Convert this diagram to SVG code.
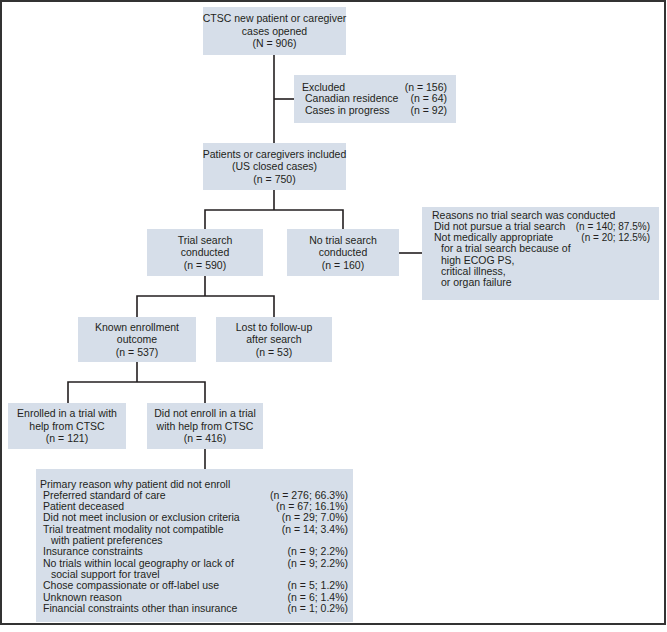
<svg xmlns="http://www.w3.org/2000/svg" width="667" height="632" viewBox="0 0 667 632">
<style>
.box{fill:#d6dee9}
.t{font-family:"Liberation Sans",Arial,sans-serif;font-size:10.5px;fill:#231f20}
.c{text-anchor:middle}
.r{text-anchor:end}
.n{font-size:10px}
.ln{stroke:#231f20;stroke-width:1.6;fill:none}
</style>
<rect width="667" height="632" fill="#fff"/>
<rect x="1" y="1" width="664" height="623" fill="none" stroke="#333" stroke-width="2"/>
<g id="connectors" class="ln">
<path d="M274 55V143"/>
<path d="M274 99H294"/>
<path d="M274 190V210M205 229V210H343V229"/>
<path d="M399 253H422"/>
<path d="M205 276V296M137 317V296H274V317"/>
<path d="M137 362V382M68 403V382H205V403"/>
<path d="M205 449V469"/>
</g>
<g id="opened">
<rect class="box" x="203" y="7" width="143" height="48"/>
<text class="t c" x="274.5" y="22.2">CTSC new patient or caregiver</text>
<text class="t c" x="274.5" y="34.7">cases opened</text>
<text class="t c" x="274.5" y="47.2">(N = 906)</text>
</g>
<g id="excluded">
<rect class="box" x="294" y="75" width="162" height="48"/>
<text class="t" x="302" y="90.5">Excluded</text>
<text class="t r" x="447" y="90.5">(n = 156)</text>
<text class="t" x="305" y="102">Canadian residence</text>
<text class="t r" x="447" y="102">(n = 64)</text>
<text class="t" x="305" y="113.5">Cases in progress</text>
<text class="t r" x="447" y="113.5">(n = 92)</text>
</g>
<g id="included">
<rect class="box" x="203" y="143" width="143" height="47"/>
<text class="t c" x="274.5" y="157.7">Patients or caregivers included</text>
<text class="t c" x="274.5" y="170.2">(US closed cases)</text>
<text class="t c" x="274.5" y="182.7">(n = 750)</text>
</g>
<g id="search">
<rect class="box" x="147" y="229" width="116" height="47"/>
<text class="t c" x="205" y="243.7">Trial search</text>
<text class="t c" x="205" y="256.2">conducted</text>
<text class="t c" x="205" y="268.7">(n = 590)</text>
</g>
<g id="nosearch">
<rect class="box" x="287" y="229" width="112" height="47"/>
<text class="t c" x="343" y="243.7">No trial search</text>
<text class="t c" x="343" y="256.2">conducted</text>
<text class="t c" x="343" y="268.7">(n = 160)</text>
</g>
<g id="reasons">
<rect class="box" x="422" y="207" width="237" height="93"/>
<text class="t" x="432" y="218.5">Reasons no trial search was conducted</text>
<text class="t" x="434" y="229.8">Did not pursue a trial search</text>
<text class="t r n" x="650" y="229.8">(n = 140; 87.5%)</text>
<text class="t" x="434" y="241.1">Not medically appropriate</text>
<text class="t r n" x="650" y="241.1">(n = 20; 12.5%)</text>
<text class="t" x="441" y="252.4">for a trial search because of</text>
<text class="t" x="441" y="263.7">high ECOG PS,</text>
<text class="t" x="441" y="275">critical illness,</text>
<text class="t" x="441" y="286.3">or organ failure</text>
</g>
<g id="known">
<rect class="box" x="78" y="317" width="118" height="45"/>
<text class="t c" x="137" y="330.7">Known enrollment</text>
<text class="t c" x="137" y="343.2">outcome</text>
<text class="t c" x="137" y="355.7">(n = 537)</text>
</g>
<g id="lost">
<rect class="box" x="216" y="317" width="116" height="45"/>
<text class="t c" x="274" y="330.7">Lost to follow-up</text>
<text class="t c" x="274" y="343.2">after search</text>
<text class="t c" x="274" y="355.7">(n = 53)</text>
</g>
<g id="enrolled">
<rect class="box" x="8" y="403" width="118" height="46"/>
<text class="t c" x="67" y="417.2">Enrolled in a trial with</text>
<text class="t c" x="67" y="429.7">help from CTSC</text>
<text class="t c" x="67" y="442.2">(n = 121)</text>
</g>
<g id="notenrolled">
<rect class="box" x="147" y="403" width="116" height="46"/>
<text class="t c" x="205" y="417.2">Did not enroll in a trial</text>
<text class="t c" x="205" y="429.7">with help from CTSC</text>
<text class="t c" x="205" y="442.2">(n = 416)</text>
</g>
<g id="primary">
<rect class="box" x="36" y="469" width="317" height="153"/>
<text class="t" x="40" y="487.5">Primary reason why patient did not enroll</text>
<text class="t" x="43" y="498.8">Preferred standard of care</text>
<text class="t r" x="348" y="498.8">(n = 276; 66.3%)</text>
<text class="t" x="43" y="510.1">Patient deceased</text>
<text class="t r" x="348" y="510.1">(n = 67; 16.1%)</text>
<text class="t" x="43" y="521.4">Did not meet inclusion or exclusion criteria</text>
<text class="t r" x="348" y="521.4">(n = 29; 7.0%)</text>
<text class="t" x="43" y="532.7">Trial treatment modality not compatible</text>
<text class="t r" x="348" y="532.7">(n = 14; 3.4%)</text>
<text class="t" x="51" y="544">with patient preferences</text>
<text class="t" x="43" y="555.3">Insurance constraints</text>
<text class="t r" x="348" y="555.3">(n = 9; 2.2%)</text>
<text class="t" x="43" y="566.6">No trials within local geography or lack of</text>
<text class="t r" x="348" y="566.6">(n = 9; 2.2%)</text>
<text class="t" x="51" y="577.9">social support for travel</text>
<text class="t" x="43" y="589.2">Chose compassionate or off-label use</text>
<text class="t r" x="348" y="589.2">(n = 5; 1.2%)</text>
<text class="t" x="43" y="600.5">Unknown reason</text>
<text class="t r" x="348" y="600.5">(n = 6; 1.4%)</text>
<text class="t" x="43" y="611.8">Financial constraints other than insurance</text>
<text class="t r" x="348" y="611.8">(n = 1; 0.2%)</text>
</g>
</svg>
